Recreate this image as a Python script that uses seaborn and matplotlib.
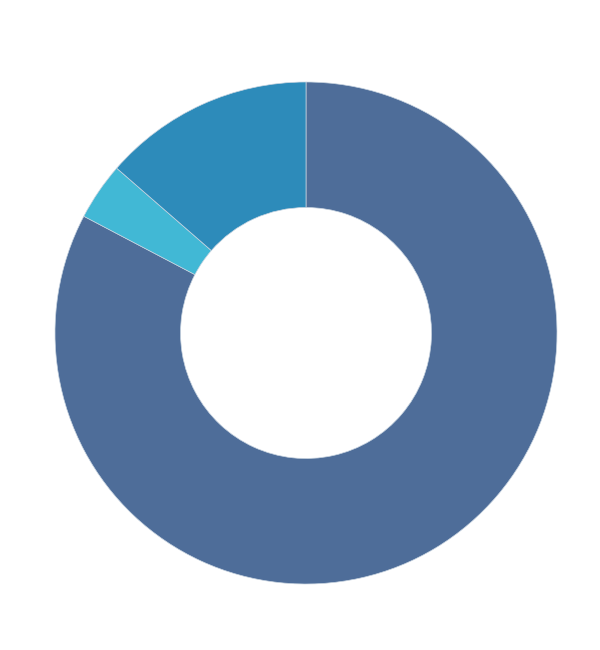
import matplotlib
matplotlib.use('Agg')
import matplotlib.pyplot as plt
import seaborn as sns

sns.set_style('white')

# slice shares, read clockwise from 12 o'clock
labels = ['A', 'B', 'C']
values = [82.7, 3.7, 13.6]
colors = ['#4E6D99', '#41B8D5', '#2D8BBA']

fig = plt.figure(figsize=(6, 6.5), dpi=100)
ax = fig.add_axes([0, 0, 1, 1])
ax.pie(values, colors=colors, startangle=90, counterclock=False, radius=1,
       wedgeprops=dict(width=0.5, edgecolor='#c8d4e0', linewidth=0.5))
ax.set_aspect('equal')
ax.set_xlim(-306 / 251, 294 / 251)
ax.set_ylim(-317 / 251, 333 / 251)
ax.axis('off')

fig.savefig('out.png', dpi=100)
